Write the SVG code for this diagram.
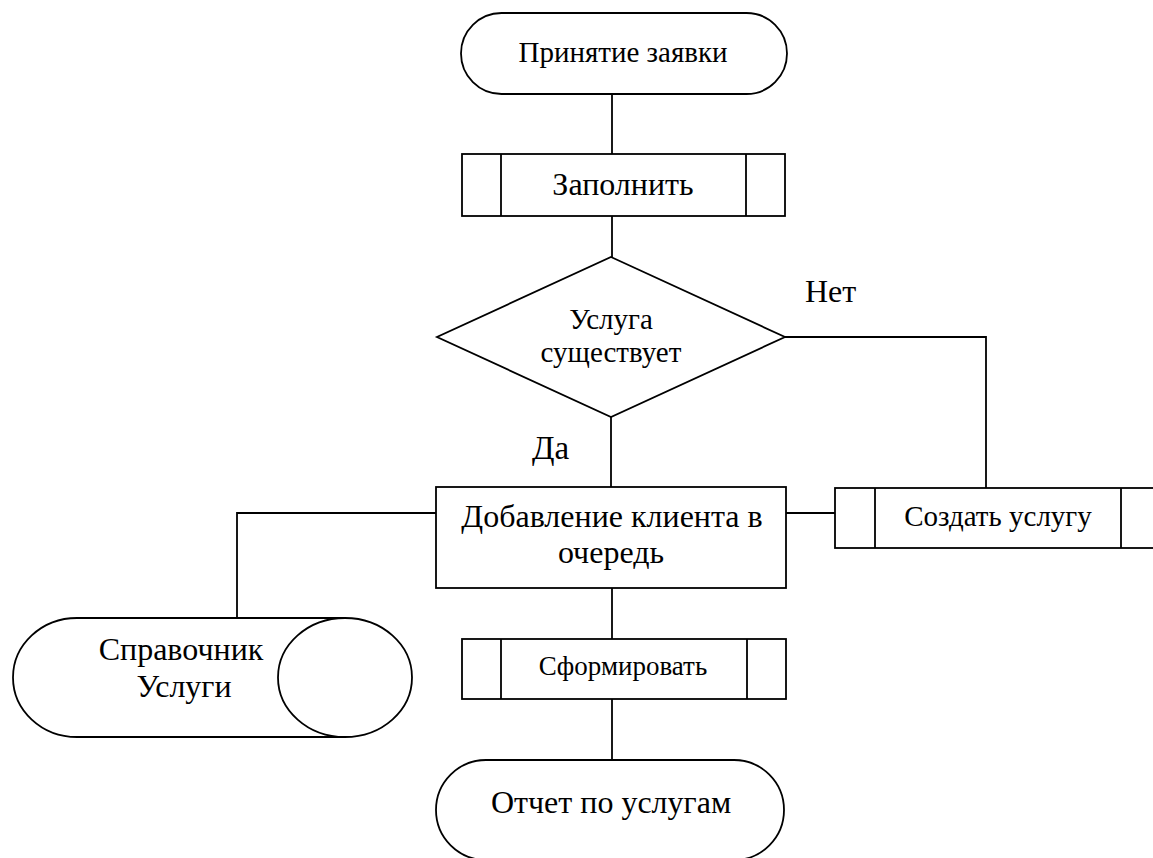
<svg xmlns="http://www.w3.org/2000/svg" width="1153" height="858" viewBox="0 0 1153 858">
<style>
.s{fill:#ffffff;stroke:#000000;stroke-width:1.8}
.c{fill:none;stroke:#000000;stroke-width:1.8}
.t{font-family:"Liberation Serif","Times New Roman",serif;font-size:32px;fill:#000000;text-anchor:middle}
.m{font-size:29px}
.sm{font-size:27px}
.l{font-family:"Liberation Serif","Times New Roman",serif;font-size:32px;fill:#000000}
</style>
<rect width="1153" height="858" fill="#ffffff"/>
<g id="connectors">
<path class="c" d="M612 94 V154"/>
<path class="c" d="M612 216 V257"/>
<path class="c" d="M611 417 V487"/>
<path class="c" d="M785 337 H986 V488"/>
<path class="c" d="M786 513 H835"/>
<path class="c" d="M436 513 H237 V618"/>
<path class="c" d="M612 588 V639"/>
<path class="c" d="M612 699 V760"/>
<text class="l" x="805" y="302">Нет</text>
<text class="l" x="532" y="459" style="font-size:33px">Да</text>
</g>
<g id="start">
<rect class="s" x="461" y="13" width="326" height="81" rx="40.5" ry="40.5"/>
<text class="t m" x="623" y="62">Принятие заявки</text>
</g>
<g id="fill">
<rect class="s" x="462" y="154" width="323" height="62"/>
<path class="c" d="M501 154 V216 M746 154 V216"/>
<text class="t" x="623" y="195">Заполнить</text>
</g>
<g id="decision">
<polygon class="s" points="611,257 785,337 611,417 437,337"/>
<text class="t m" x="611" y="329">Услуга</text>
<text class="t m" x="611" y="362">существует</text>
</g>
<g id="add">
<rect class="s" x="436" y="487" width="350" height="101"/>
<text class="t" x="612" y="527">Добавление клиента в</text>
<text class="t" x="611" y="563">очередь</text>
</g>
<g id="create">
<rect class="s" x="835" y="488" width="326" height="60"/>
<path class="c" d="M875 488 V548 M1121 488 V548"/>
<text class="t m" x="998" y="526">Создать услугу</text>
</g>
<g id="directory">
<path class="s" d="M345 618 H77 A64 59.5 0 0 0 77 737 H345"/>
<ellipse class="s" cx="345" cy="677.5" rx="67" ry="59.5"/>
<text class="t" x="181" y="660">Справочник</text>
<text class="t" x="184" y="697">Услуги</text>
</g>
<g id="form">
<rect class="s" x="462" y="639" width="324" height="60"/>
<path class="c" d="M501 639 V699 M747 639 V699"/>
<text class="t sm" x="623" y="675">Сформировать</text>
</g>
<g id="end">
<rect class="s" x="436" y="760" width="348" height="100" rx="50" ry="50"/>
<text class="t" x="611" y="813">Отчет по услугам</text>
</g>
</svg>
